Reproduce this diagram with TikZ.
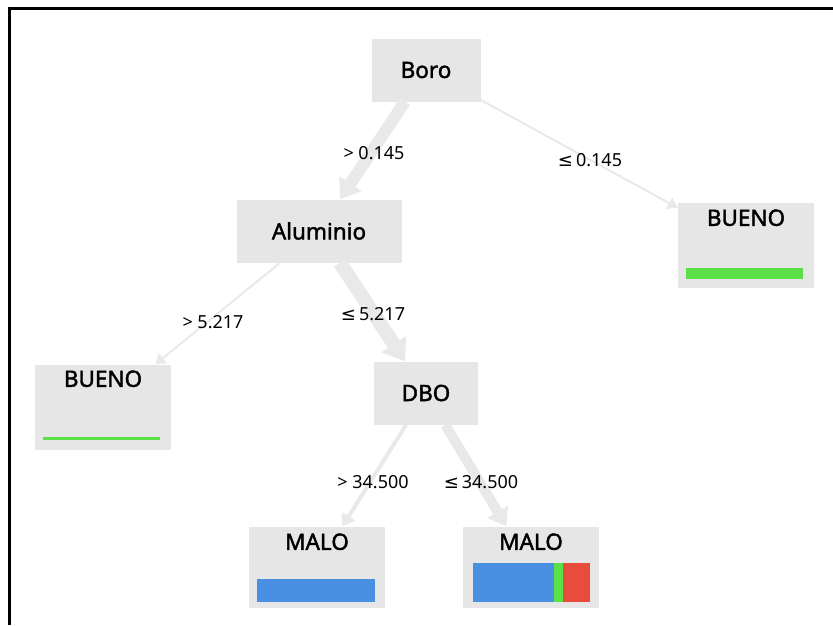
\documentclass[tikz,border=0pt]{standalone}
\usepackage{fontspec}
\setmainfont{Noto Sans}
\newfontfamily\nodefont[FakeBold=1.8]{Noto Sans}
\newfontfamily\symfont{DejaVu Sans}
\usetikzlibrary{arrows.meta,positioning}
\definecolor{boxgray}{HTML}{E6E6E6}
\definecolor{edgegray}{HTML}{E9E9E9}
\definecolor{barblue}{HTML}{4A90E2}
\definecolor{bargreen}{HTML}{5CE048}
\definecolor{barred}{HTML}{E74C3C}
\newcommand{\lesym}{{\symfont ≤}}
\begin{document}
\begin{tikzpicture}[x=1pt,y=-1pt,every node/.style={font=\nodefont\fontsize{22.5}{26}\selectfont},split/.style={fill=boxgray,inner sep=0pt,minimum width=#1,minimum height=63},leaf/.style={fill=boxgray,inner sep=0pt,minimum width=136,minimum height=#1},branch/.style={draw=edgegray,line width=#1,-{Triangle[length=8pt 0.9,width=10pt 1.3]}},cond/.style={font=\fontsize{18}{20}\selectfont}]
\useasboundingbox (0,0) rectangle (833,625);
\draw[line width=3pt] (9,625)--(9,8)--(833,8);
\node[split=109] (boro) at (426,70) {Boro};\node[split=165] (alum) at (319,231) {Aluminio};\node[split=104] (dbo) at (426,393) {DBO};
\node[leaf=85,label={[anchor=north,inner sep=7pt]north:BUENO}] (buenoR) at (746,245) {};\node[leaf=85,label={[anchor=north,inner sep=6pt]north:BUENO}] (buenoL) at (103,407) {};
\node[leaf=81,label={[anchor=north,inner sep=7pt]north:MALO}] (maloL) at (317,567) {};\node[leaf=81,label={[anchor=north,inner sep=7pt]north:MALO}] (maloR) at (531,567) {};
\fill[bargreen] (686,268) rectangle (803,279);\fill[bargreen] (43,437) rectangle (160,440);
\fill[barblue] (257,579) rectangle (375,602);\fill[barblue] (473,563) rectangle (554,602);\fill[bargreen] (554,563) rectangle (563,602);\fill[barred] (563,563) rectangle (590,602);
\draw[branch=12pt] (boro)--(alum);\draw[branch=2pt] (boro)--(buenoR);\draw[branch=2pt] (alum)--(buenoL);\draw[branch=14pt] (alum)--(dbo);\draw[branch=4pt] (dbo)--(maloL);\draw[branch=10pt] (dbo)--(maloR);
\node[cond] (c1) at (374,153) {> 0.145};\node[cond] (c2) at (590,160) {\lesym\,0.145};\node[cond] (c3) at (213,322) {> 5.217};\node[cond] (c4) at (373,314) {\lesym\,5.217};\node[cond] (c5) at (373,482) {> 34.500};\node[cond] (c6) at (481,482) {\lesym\,34.500};
\end{tikzpicture}
\end{document}
